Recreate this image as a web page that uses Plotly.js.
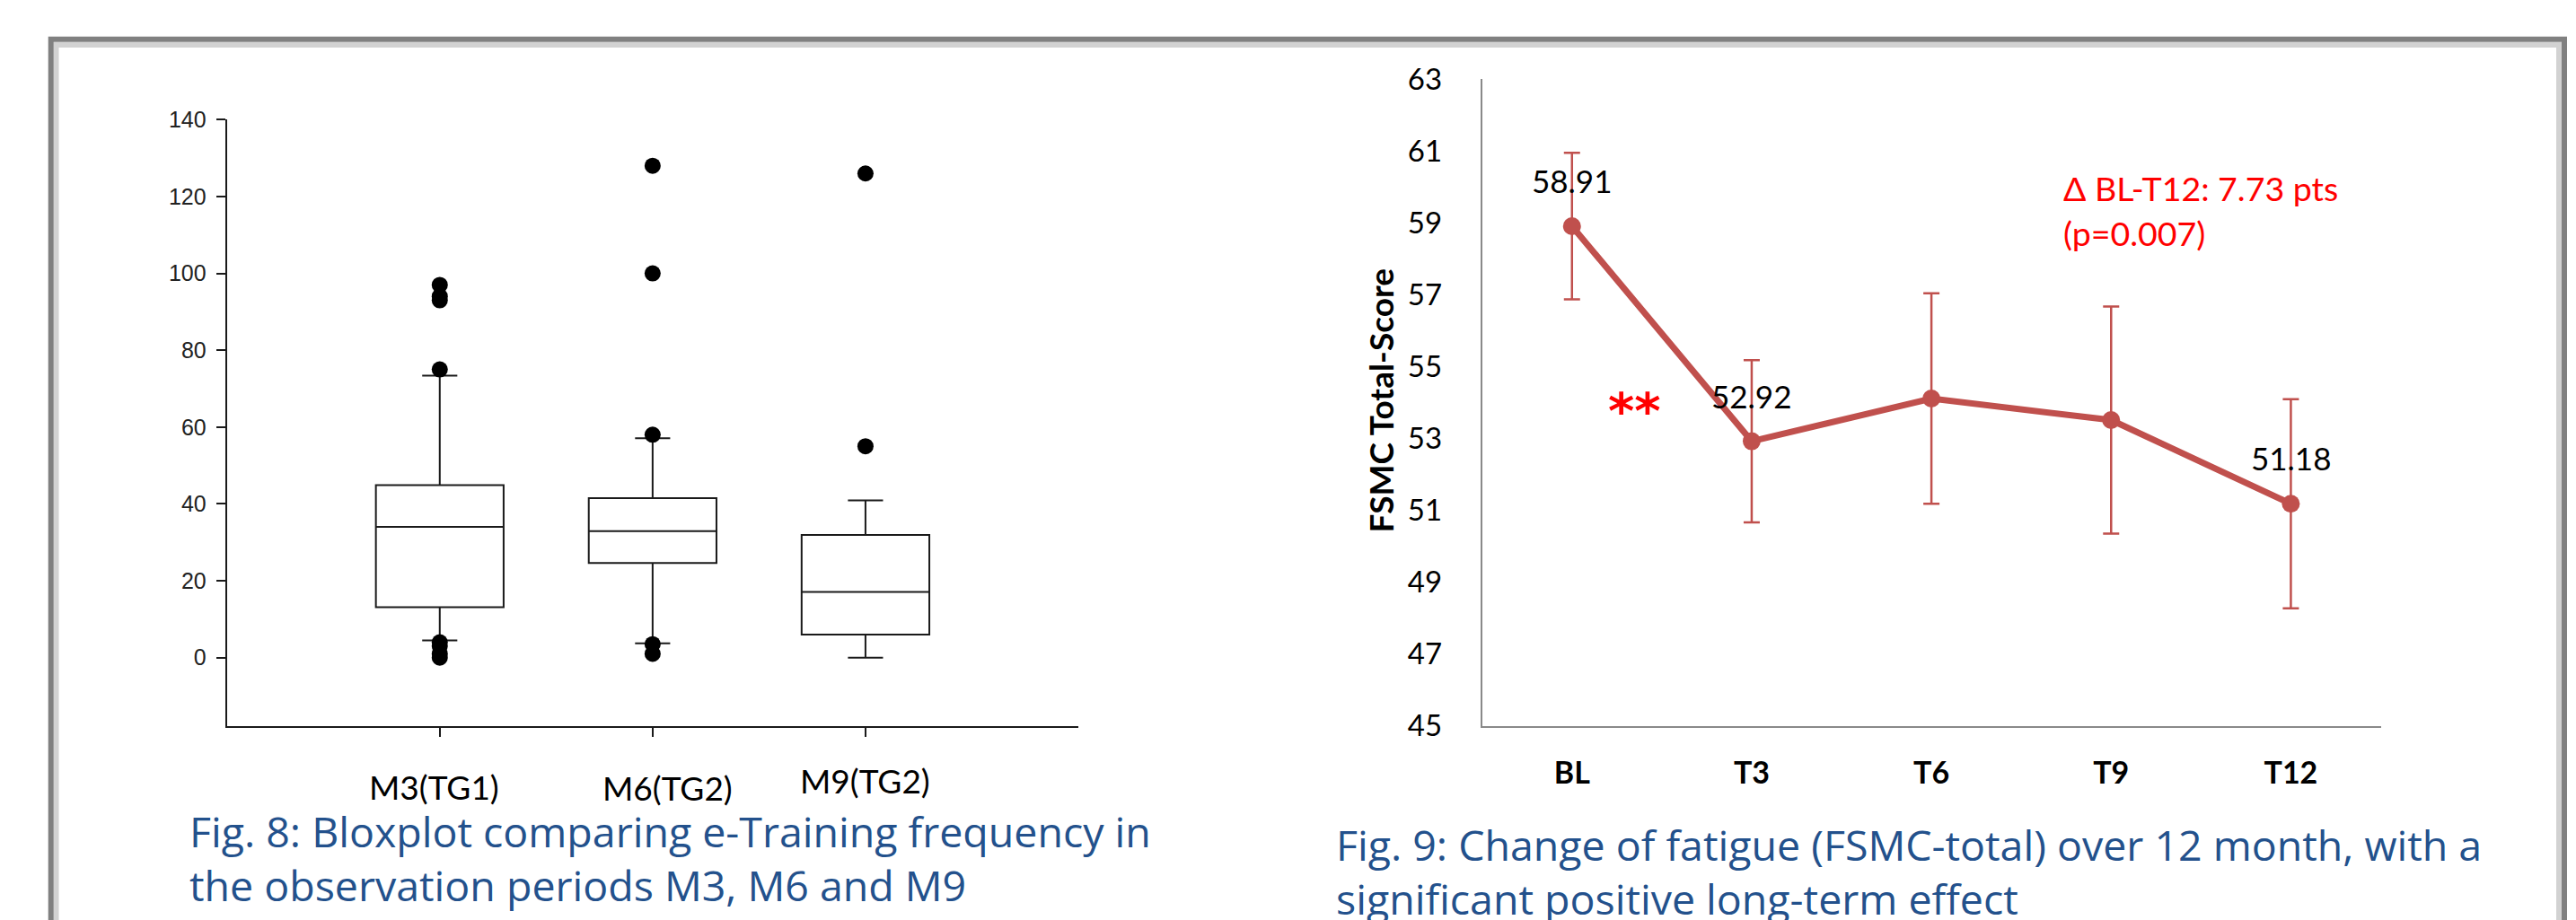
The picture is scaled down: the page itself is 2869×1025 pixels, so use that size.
<!DOCTYPE html>
<html>
<head>
<meta charset="utf-8">
<script src="https://cdn.plot.ly/plotly-3.0.1.min.js"></script>
<style>html,body{margin:0;padding:0;background:#fff;}#chart{width:2869px;height:1025px;}</style>
</head>
<body>
<div id="chart"></div>
<script>
// ---------- DATA ----------
const periods = ['M3(TG1)', 'M6(TG2)', 'M9(TG2)'];
const boxQ1 = [13.1, 24.6, 6.0];
const boxMedian = [34.0, 32.9, 17.1];
const boxQ3 = [44.9, 41.5, 31.9];
const boxLowerFence = [4.5, 3.7, 0];
const boxUpperFence = [73.4, 57.1, 40.9];
const outliersM3 = [97, 94, 93, 75, 4, 3, 1, 0];
const outliersM6 = [128, 100, 58, 3.5, 1];
const outliersM9 = [126, 55];
const boxYTicks = [0, 20, 40, 60, 80, 100, 120, 140];

const timepoints = ['BL', 'T3', 'T6', 'T9', 'T12'];
const fsmcMean = [58.91, 52.92, 54.11, 53.51, 51.18];
const fsmcErr = [2.04, 2.26, 2.93, 3.16, 2.91];
const labeledPoints = [0, 1, 4];
const fsmcYTicks = [45, 47, 49, 51, 53, 55, 57, 59, 61, 63];

const caption8 = ['Fig. 8: Bloxplot comparing e-Training frequency in', 'the observation periods M3, M6 and M9'];
const caption9 = ['Fig. 9: Change of fatigue (FSMC-total) over 12 month, with a', 'significant positive long-term effect'];
const yTitle9 = 'FSMC Total-Score';
const sigMark = '**';
const deltaText = ['\u0394 BL-T12: 7.73 pts', '(p=0.007)'];

// ---------- LAYOUT HELPERS ----------
const W = 2869, H = 1025;
const px = x => x / W;
const py = y => 1 - y / H;
const HUM = 'Lato, "Open Sans", sans-serif';
const CAPF = '"Open Sans", Lato, sans-serif';
const ARIAL = '"Liberation Sans", Arial, sans-serif';
const CAPC = '#23518C';
const RED = '#C0504D';

const outlierSets = [outliersM3, outliersM6, outliersM9];
const oX = [], oY = [];
outlierSets.forEach((arr, i) => arr.forEach(v => { oX.push(i); oY.push(v); }));

const traces = [
  {
    type: 'box', xaxis: 'x', yaxis: 'y',
    x: [0, 1, 2], q1: boxQ1, median: boxMedian, q3: boxQ3,
    lowerfence: boxLowerFence, upperfence: boxUpperFence,
    width: 0.6, whiskerwidth: 0.275, boxpoints: false,
    line: {color: '#1a1a1a', width: 2}, fillcolor: 'rgba(0,0,0,0)',
    hoverinfo: 'skip', showlegend: false
  },
  {
    type: 'scatter', mode: 'markers', xaxis: 'x', yaxis: 'y',
    x: oX, y: oY, marker: {color: '#000', size: 18},
    hoverinfo: 'skip', showlegend: false
  },
  {
    type: 'scatter', mode: 'lines+markers', xaxis: 'x2', yaxis: 'y2',
    x: timepoints, y: fsmcMean,
    line: {color: RED, width: 7}, marker: {color: RED, size: 20},
    error_y: {type: 'data', array: fsmcErr, visible: true, color: RED, thickness: 2.5, width: 9},
    hoverinfo: 'skip', showlegend: false
  }
];

const labelPos = [ {dx: -6, y: 876}, {dx: 17, y: 877}, {dx: 0, y: 869} ];

const annotations = [];
periods.forEach((p, i) => annotations.push({
  text: p, xref: 'x', x: i, xshift: labelPos[i].dx, yref: 'paper', y: py(labelPos[i].y),
  showarrow: false, xanchor: 'center', yanchor: 'middle',
  font: {family: HUM, size: 37, color: '#000'}
}));
labeledPoints.forEach(i => annotations.push({
  text: fsmcMean[i].toFixed(2), xref: 'x2', x: timepoints[i], yref: 'y2', y: fsmcMean[i], yshift: 51,
  showarrow: false, xanchor: 'center', yanchor: 'middle',
  font: {family: HUM, size: 35, color: '#000'}
}));
const capLines = [
  {t: caption8[0], x: 209, y: 926}, {t: caption8[1], x: 209, y: 986},
  {t: caption9[0], x: 1486, y: 941}, {t: caption9[1], x: 1486, y: 1001}
];
capLines.forEach(c => annotations.push({
  text: c.t, xref: 'paper', yref: 'paper', x: px(c.x), y: py(c.y),
  showarrow: false, xanchor: 'left', yanchor: 'middle',
  font: {family: CAPF, size: 46.5, color: CAPC}
}));
annotations.push({
  text: '<b>' + yTitle9 + '</b>', xref: 'paper', yref: 'paper', x: px(1537.5), y: py(447),
  textangle: -90, showarrow: false, xanchor: 'center', yanchor: 'middle',
  font: {family: HUM, size: 37, color: '#000'}
});
annotations.push({
  text: '<b>' + sigMark + '</b>', xref: 'paper', yref: 'paper', x: px(1820), y: py(458),
  showarrow: false, xanchor: 'center', yanchor: 'middle',
  font: {family: '"DejaVu Sans", sans-serif', size: 56, color: '#FF0000'}
});
annotations.push({
  text: deltaText[0], xref: 'paper', yref: 'paper', x: px(2296), y: py(210),
  showarrow: false, xanchor: 'left', yanchor: 'middle',
  font: {family: HUM, size: 37.5, color: '#FF0000'}
});
annotations.push({
  text: deltaText[1], xref: 'paper', yref: 'paper', x: px(2296), y: py(259),
  showarrow: false, xanchor: 'left', yanchor: 'middle',
  font: {family: HUM, size: 37.5, color: '#FF0000'}
});

const shapes = [
  {type: 'rect', xref: 'paper', yref: 'paper', x0: px(62.5), x1: px(2850), y0: -0.1, y1: py(50),
   line: {color: '#d2d2d2', width: 6}, layer: 'below'},
  {type: 'rect', xref: 'paper', yref: 'paper', x0: px(56.7), x1: px(2856), y0: -0.1, y1: py(43.7),
   line: {color: '#808080', width: 6}, layer: 'below'}
];

const layout = {
  width: W, height: H,
  margin: {l: 0, r: 0, t: 0, b: 0, pad: 0},
  paper_bgcolor: '#fff', plot_bgcolor: 'rgba(0,0,0,0)',
  showlegend: false,
  xaxis: {
    domain: [px(252.7), px(1201)], range: [-1, 3], anchor: 'y',
    tickvals: [0, 1, 2], showticklabels: false,
    ticks: 'outside', ticklen: 10, tickwidth: 2, tickcolor: '#1a1a1a',
    showline: true, linecolor: '#1a1a1a', linewidth: 2,
    showgrid: false, zeroline: false, fixedrange: true
  },
  yaxis: {
    domain: [py(809.3), py(133.3)], range: [-17.9, 140], anchor: 'x',
    tickvals: boxYTicks, ticktext: boxYTicks.map(String),
    ticks: 'outside', ticklen: 10, tickwidth: 2, tickcolor: '#1a1a1a',
    tickfont: {family: ARIAL, size: 25, color: '#222'}, ticklabelstandoff: 6,
    showline: true, linecolor: '#1a1a1a', linewidth: 2,
    showgrid: false, zeroline: false, fixedrange: true
  },
  xaxis2: {
    domain: [px(1650.7), px(2651.5)], type: 'category', range: [-0.5, 4.5], anchor: 'y2',
    ticks: '', tickfont: {family: HUM, size: 34, color: '#000', weight: 'bold'}, ticklabelstandoff: 22,
    showline: true, linecolor: '#898989', linewidth: 2,
    showgrid: false, zeroline: false, fixedrange: true
  },
  yaxis2: {
    domain: [py(808.5), py(88.3)], range: [45, 63], anchor: 'x2',
    tickvals: fsmcYTicks, ticktext: fsmcYTicks.map(String),
    ticks: '', tickfont: {family: HUM, size: 33, color: '#000'}, ticklabelstandoff: 36,
    showline: true, linecolor: '#898989', linewidth: 2,
    showgrid: false, zeroline: false, fixedrange: true
  },
  annotations: annotations,
  shapes: shapes
};

Plotly.newPlot('chart', traces, layout, {staticPlot: true, displayModeBar: false});
</script>
</body>
</html>
